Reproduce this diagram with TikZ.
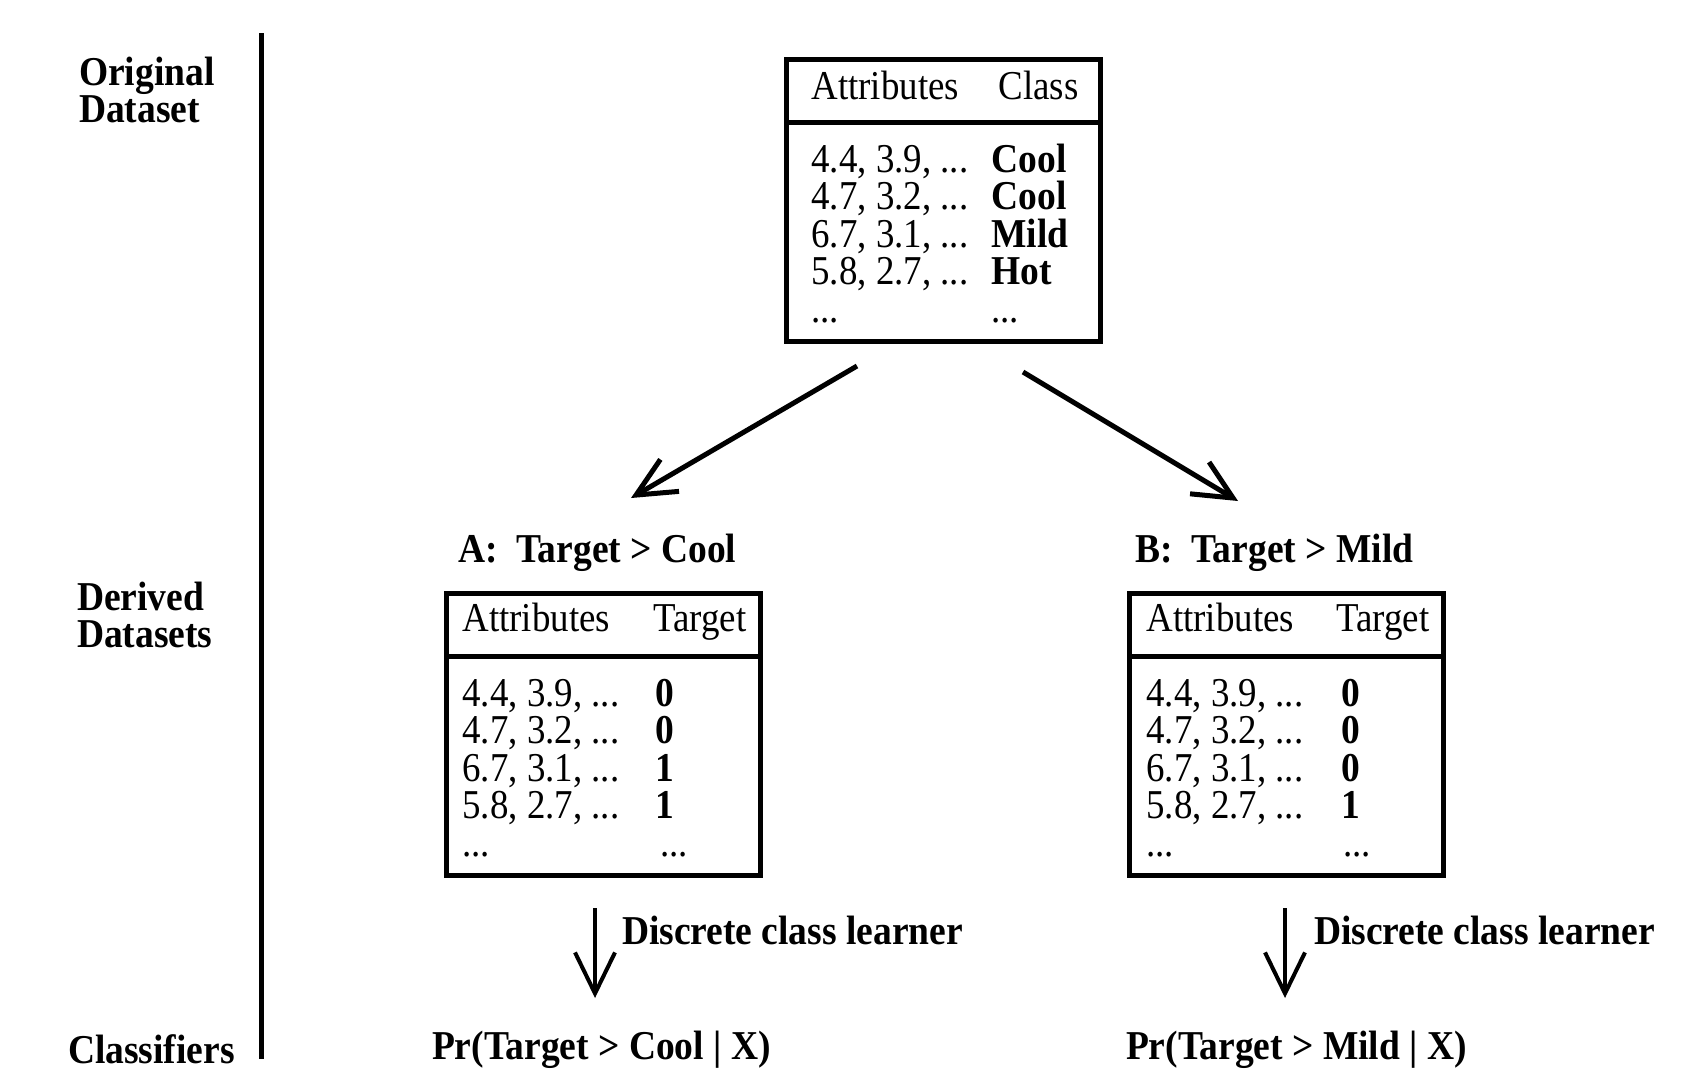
\documentclass[tikz,border=0pt]{standalone}
\usepackage{fontspec}
\setmainfont{Liberation Serif}[FakeStretch=0.9, BoldFeatures={FakeStretch=0.915}]
\usetikzlibrary{arrows.meta}
\begin{document}
\begin{tikzpicture}[x=1pt,y=-1pt,
  every node/.style={inner sep=0pt, outer sep=0pt, font=\fontsize{41}{41}\selectfont},
  txt/.style={anchor=base west},
  bftxt/.style={anchor=base west, font=\fontsize{41}{41}\selectfont\bfseries},
  tbox/.style={draw, rectangle, line width=5pt, minimum width=314pt, minimum height=282pt},
  rule/.style={line width=5pt},
  bigarrow/.style={line width=5pt, -{Straight Barb[length=39pt,width=37pt]}},
  smallarrow/.style={line width=4pt, -{Straight Barb[length=41pt,width=40pt]}}
]
\useasboundingbox (0,0) rectangle (1696,1088);

% left labels and separator
\node[bftxt] (lo1) at (79,85) {Original};
\node[bftxt] (lo2) at (79,122) {Dataset};
\node[bftxt] (ld1) at (77,610) {Derived};
\node[bftxt] (ld2) at (77,647) {Datasets};
\node[bftxt] (lc) at (68,1063) {Classifiers};
\coordinate (septop) at (261,33);
\coordinate (sepbot) at (261,1059);
\draw[rule] (septop) -- (sepbot);

% original dataset
\node[tbox] (orig) at (943.5,200) {};
\draw[rule] ([yshift=-63pt]orig.north west) -- ([yshift=-63pt]orig.north east);
\node[txt] (oh1) at ([xshift=25pt,yshift=-40pt]orig.north west) {Attributes};
\node[txt] (oh2) at ([xshift=212pt,yshift=-40pt]orig.north west) {Class};
\node[txt] (oa1) at ([xshift=25pt,yshift=-113pt]orig.north west) {4.4, 3.9, ...};
\node[txt] (oa2) at ([xshift=25pt,yshift=-150.5pt]orig.north west) {4.7, 3.2, ...};
\node[txt] (oa3) at ([xshift=25pt,yshift=-188pt]orig.north west) {6.7, 3.1, ...};
\node[txt] (oa4) at ([xshift=25pt,yshift=-225.5pt]orig.north west) {5.8, 2.7, ...};
\node[txt] (oa5) at ([xshift=25pt,yshift=-263pt]orig.north west) {...};
\node[bftxt] (oc1) at ([xshift=205pt,yshift=-113pt]orig.north west) {Cool};
\node[bftxt] (oc2) at ([xshift=205pt,yshift=-150.5pt]orig.north west) {Cool};
\node[bftxt] (oc3) at ([xshift=205pt,yshift=-188pt]orig.north west) {Mild};
\node[bftxt] (oc4) at ([xshift=205pt,yshift=-225.5pt]orig.north west) {Hot};
\node[txt] (oc5) at ([xshift=205pt,yshift=-263pt]orig.north west) {...};

% derived dataset A
\node[bftxt] (ta) at (458,562.5) {A:~~Target > Cool};
\node[tbox] (dA) at (603.5,734) {};
\draw[rule] ([yshift=-63pt]dA.north west) -- ([yshift=-63pt]dA.north east);
\node[txt] (ah1) at ([xshift=16pt,yshift=-38pt]dA.north west) {Attributes};
\node[txt] (ah2) at ([xshift=207pt,yshift=-38pt]dA.north west) {Target};
\node[txt] (aa1) at ([xshift=16pt,yshift=-113pt]dA.north west) {4.4, 3.9, ...};
\node[txt] (aa2) at ([xshift=16pt,yshift=-150.5pt]dA.north west) {4.7, 3.2, ...};
\node[txt] (aa3) at ([xshift=16pt,yshift=-188pt]dA.north west) {6.7, 3.1, ...};
\node[txt] (aa4) at ([xshift=16pt,yshift=-225.5pt]dA.north west) {5.8, 2.7, ...};
\node[txt] (aa5) at ([xshift=16pt,yshift=-263pt]dA.north west) {...};
\node[bftxt] (at1) at ([xshift=209pt,yshift=-113pt]dA.north west) {0};
\node[bftxt] (at2) at ([xshift=209pt,yshift=-150.5pt]dA.north west) {0};
\node[bftxt] (at3) at ([xshift=209pt,yshift=-188pt]dA.north west) {1};
\node[bftxt] (at4) at ([xshift=209pt,yshift=-225.5pt]dA.north west) {1};
\node[txt] (at5) at ([xshift=214pt,yshift=-263pt]dA.north west) {...};

% derived dataset B
\node[bftxt] (tb) at (1135,562.5) {B:~~Target > Mild};
\node[tbox] (dB) at (1286.5,734) {};
\draw[rule] ([yshift=-63pt]dB.north west) -- ([yshift=-63pt]dB.north east);
\node[txt] (bh1) at ([xshift=17pt,yshift=-38pt]dB.north west) {Attributes};
\node[txt] (bh2) at ([xshift=207pt,yshift=-38pt]dB.north west) {Target};
\node[txt] (ba1) at ([xshift=17pt,yshift=-113pt]dB.north west) {4.4, 3.9, ...};
\node[txt] (ba2) at ([xshift=17pt,yshift=-150.5pt]dB.north west) {4.7, 3.2, ...};
\node[txt] (ba3) at ([xshift=17pt,yshift=-188pt]dB.north west) {6.7, 3.1, ...};
\node[txt] (ba4) at ([xshift=17pt,yshift=-225.5pt]dB.north west) {5.8, 2.7, ...};
\node[txt] (ba5) at ([xshift=17pt,yshift=-263pt]dB.north west) {...};
\node[bftxt] (bt1) at ([xshift=212pt,yshift=-113pt]dB.north west) {0};
\node[bftxt] (bt2) at ([xshift=212pt,yshift=-150.5pt]dB.north west) {0};
\node[bftxt] (bt3) at ([xshift=212pt,yshift=-188pt]dB.north west) {0};
\node[bftxt] (bt4) at ([xshift=212pt,yshift=-225.5pt]dB.north west) {1};
\node[txt] (bt5) at ([xshift=214pt,yshift=-263pt]dB.north west) {...};

% split arrows
\coordinate (sa1) at (857,366);
\coordinate (ea1) at (631,498);
\coordinate (sb1) at (1023,372);
\coordinate (eb1) at (1238,501);
\draw[bigarrow] (sa1) -- (ea1);
\draw[bigarrow] (sb1) -- (eb1);

% learners
\coordinate (sa2) at (595,908);
\coordinate (ea2) at (595,998);
\coordinate (sb2) at (1285,908);
\coordinate (eb2) at (1285,998);
\draw[smallarrow] (sa2) -- (ea2);
\draw[smallarrow] (sb2) -- (eb2);
\node[bftxt] (la) at (622,944) {Discrete class learner};
\node[bftxt] (lb) at (1314,944) {Discrete class learner};

% classifiers
\node[bftxt] (pa) at (432,1059) {Pr(Target > Cool | X)};
\node[bftxt] (pb) at (1126,1059) {Pr(Target > Mild | X)};
\end{tikzpicture}
\end{document}
